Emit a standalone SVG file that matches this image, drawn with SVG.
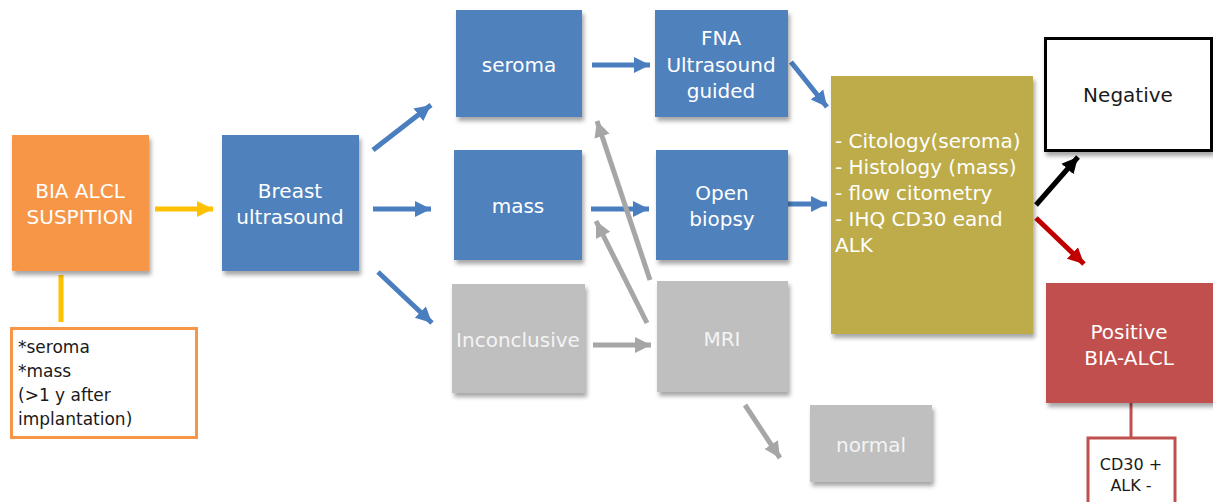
<svg xmlns="http://www.w3.org/2000/svg" width="1213" height="502" viewBox="0 0 1213 502">
<defs>
<filter id="sh" x="-10%" y="-10%" width="130%" height="130%">
<feDropShadow dx="2" dy="4" stdDeviation="2" flood-color="#000" flood-opacity="0.35"/>
</filter>
<marker id="aBlue" markerUnits="userSpaceOnUse" markerWidth="18" markerHeight="18" refX="16" refY="8" orient="auto" viewBox="0 0 18 16"><path d="M0,0 L16,8 L0,16 Z" fill="#4A7EBF"/></marker>
<marker id="aGray" markerUnits="userSpaceOnUse" markerWidth="18" markerHeight="18" refX="16" refY="8" orient="auto" viewBox="0 0 18 16"><path d="M0,0 L16,8 L0,16 Z" fill="#A6A6A6"/></marker>
<marker id="aYel" markerUnits="userSpaceOnUse" markerWidth="18" markerHeight="18" refX="16" refY="8" orient="auto" viewBox="0 0 18 16"><path d="M0,0 L16,8 L0,16 Z" fill="#FFC000"/></marker>
<marker id="aBlk" markerUnits="userSpaceOnUse" markerWidth="18" markerHeight="18" refX="16" refY="8" orient="auto" viewBox="0 0 18 16"><path d="M0,0 L16,8 L0,16 Z" fill="#000"/></marker>
<marker id="aRed" markerUnits="userSpaceOnUse" markerWidth="18" markerHeight="18" refX="16" refY="8" orient="auto" viewBox="0 0 18 16"><path d="M0,0 L16,8 L0,16 Z" fill="#C00000"/></marker>
</defs>
<style>
text{font-family:"DejaVu Sans","Liberation Sans",sans-serif;font-size:20px}
.w{fill:#FFFFFF;text-anchor:middle}
.g{fill:#F4F4F4;text-anchor:middle}
.k{fill:#1A1A1A}
.blue{fill:#4F81BD;filter:url(#sh)}
.gray{fill:#BFBFBF;filter:url(#sh)}
.cb{stroke:#4A7EBF;stroke-width:5;fill:none;marker-end:url(#aBlue)}
.cg{stroke:#A6A6A6;stroke-width:5;fill:none;marker-end:url(#aGray)}
</style>
<rect width="1213" height="502" fill="#FFFFFF"/>
<g id="connectors">
<line x1="61" y1="275" x2="61" y2="322" stroke="#FFC000" stroke-width="5"/>
<line x1="155" y1="209" x2="213" y2="209" stroke="#FFC000" stroke-width="5" marker-end="url(#aYel)"/>
<line class="cb" x1="373" y1="150" x2="431" y2="105"/>
<line class="cb" x1="373" y1="209" x2="431" y2="209"/>
<line class="cb" x1="378" y1="272" x2="432" y2="323"/>
<line class="cb" x1="592" y1="65" x2="650" y2="65"/>
<line class="cb" x1="591" y1="209" x2="649" y2="209"/>
<line class="cb" x1="791" y1="62" x2="827" y2="107"/>
<line class="cb" x1="788" y1="204" x2="827" y2="204"/>
<line class="cg" x1="593" y1="345" x2="651" y2="345"/>
<line class="cg" x1="650" y1="280" x2="597" y2="121"/>
<line class="cg" x1="647" y1="323" x2="596" y2="221"/>
<line class="cg" x1="745" y1="405" x2="780" y2="458"/>
<line x1="1036" y1="205" x2="1078" y2="157" stroke="#000" stroke-width="5" marker-end="url(#aBlk)"/>
<line x1="1036" y1="218" x2="1084" y2="264" stroke="#C00000" stroke-width="5" marker-end="url(#aRed)"/>
<line x1="1131" y1="403" x2="1131" y2="437" stroke="#C0504D" stroke-width="3"/>
</g>
<g id="suspicion">
<rect x="12" y="135" width="137" height="136" fill="#F79646" filter="url(#sh)"/>
<text class="w" x="80" y="198">BIA ALCL</text>
<text class="w" x="80" y="224">SUSPITION</text>
</g>
<g id="criteria">
<rect x="11.5" y="328.5" width="185" height="109" fill="#FFFFFF" stroke="#F79646" stroke-width="3"/>
<text class="k" x="18" y="353" style="font-size:17px">*seroma</text>
<text class="k" x="18" y="377" style="font-size:17px">*mass</text>
<text class="k" x="18" y="401" style="font-size:17px">(&gt;1 y after</text>
<text class="k" x="18" y="425" style="font-size:17px">implantation)</text>
</g>
<g id="breast-us">
<rect class="blue" x="222" y="135" width="137" height="136"/>
<text class="w" x="290" y="198">Breast</text>
<text class="w" x="290" y="224">ultrasound</text>
</g>
<g id="seroma">
<rect class="blue" x="456" y="10" width="126" height="107"/>
<text class="w" x="519" y="72">seroma</text>
</g>
<g id="mass">
<rect class="blue" x="454" y="150" width="128" height="110"/>
<text class="w" x="518" y="213">mass</text>
</g>
<g id="inconclusive">
<rect class="gray" x="452" y="284" width="133" height="109"/>
<text class="g" x="518" y="347">Inconclusive</text>
</g>
<g id="fna">
<rect class="blue" x="655" y="10" width="133" height="107"/>
<text class="w" x="721" y="45">FNA</text>
<text class="w" x="721" y="72">Ultrasound</text>
<text class="w" x="721" y="98">guided</text>
</g>
<g id="open-biopsy">
<rect class="blue" x="656" y="150" width="132" height="110"/>
<text class="w" x="722" y="200">Open</text>
<text class="w" x="722" y="226">biopsy</text>
</g>
<g id="mri">
<rect class="gray" x="657" y="281" width="131" height="111"/>
<text class="g" x="722" y="346">MRI</text>
</g>
<g id="normal">
<rect class="gray" x="810" y="405" width="122" height="77"/>
<text class="g" x="871" y="452">normal</text>
</g>
<g id="tests">
<rect x="831" y="76" width="202" height="258" fill="#BDAC48" filter="url(#sh)"/>
<text fill="#FFFFFF" x="835" y="148">- Citology(seroma)</text>
<text fill="#FFFFFF" x="835" y="174">- Histology (mass)</text>
<text fill="#FFFFFF" x="835" y="200">- flow citometry</text>
<text fill="#FFFFFF" x="835" y="226">- IHQ CD30 eand</text>
<text fill="#FFFFFF" x="835" y="252">ALK</text>
</g>
<g id="negative">
<rect x="1045.5" y="38.5" width="166" height="112" fill="#FFFFFF" stroke="#000" stroke-width="3" filter="url(#sh)"/>
<text class="k" x="1128" y="102" text-anchor="middle">Negative</text>
</g>
<g id="positive">
<rect x="1046" y="283" width="170" height="120" fill="#C0504D" filter="url(#sh)"/>
<text class="w" x="1129" y="339">Positive</text>
<text class="w" x="1129" y="365">BIA-ALCL</text>
</g>
<g id="cd30">
<rect x="1088" y="438" width="87" height="66" fill="#FFFFFF" stroke="#C0504D" stroke-width="3"/>
<text class="k" x="1131" y="470" text-anchor="middle" style="font-size:16px">CD30 +</text>
<text class="k" x="1131" y="491" text-anchor="middle" style="font-size:16px">ALK -</text>
</g>
</svg>
